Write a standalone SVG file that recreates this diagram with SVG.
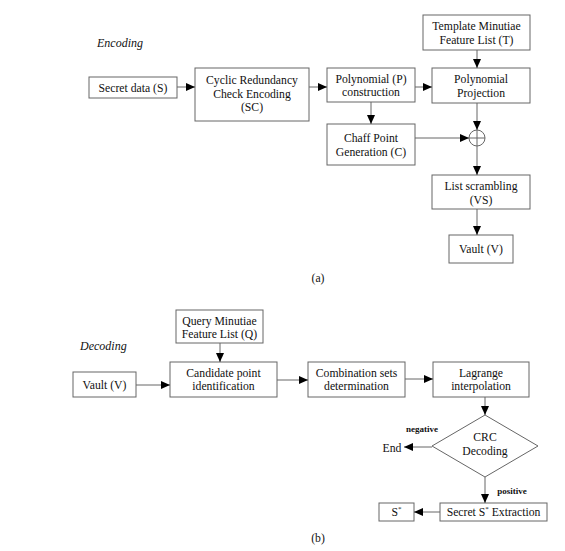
<svg xmlns="http://www.w3.org/2000/svg" width="565" height="551" viewBox="0 0 565 551">
<defs>
<marker id="ah" markerWidth="9" markerHeight="8" refX="9" refY="4" orient="auto" markerUnits="userSpaceOnUse">
<path d="M0,0 L9,4 L0,8 Z" fill="#000"/>
</marker>
<style>
.box{fill:#fff;stroke:#666;stroke-width:1}
.t{font-family:"Liberation Serif","Times New Roman",serif;font-size:11.7px;fill:#111;text-anchor:middle}
.it{font-family:"Liberation Serif","Times New Roman",serif;font-size:12px;font-style:italic;fill:#111}
.lb{font-family:"Liberation Serif","Times New Roman",serif;font-size:9px;font-weight:bold;fill:#111;text-anchor:middle}
.c{fill:none;stroke:#666;stroke-width:1}
.ca{fill:none;stroke:#666;stroke-width:1;marker-end:url(#ah)}
</style>
</defs>
<rect width="565" height="551" fill="#fff"/>
<text class="it" x="97" y="47">Encoding</text>
<text class="it" x="80" y="350">Decoding</text>

<g id="secret"><rect class="box" x="89" y="77" width="88" height="21"/><text class="t" x="133" y="91.5">Secret data (S)</text></g>
<g id="crc"><rect class="box" x="195" y="68" width="114" height="53"/><text class="t" x="252" y="84">Cyclic Redundancy</text><text class="t" x="252" y="97.5">Check Encoding</text><text class="t" x="252" y="111">(SC)</text></g>
<g id="polyP"><rect class="box" x="327" y="68" width="88" height="34"/><text class="t" x="371" y="83">Polynomial (P)</text><text class="t" x="371" y="96">construction</text></g>
<g id="proj"><rect class="box" x="432" y="68" width="98" height="35"/><text class="t" x="481" y="83">Polynomial</text><text class="t" x="481" y="96.5">Projection</text></g>
<g id="template"><rect class="box" x="423" y="15" width="107" height="35"/><text class="t" x="476.5" y="30">Template Minutiae</text><text class="t" x="476.5" y="43.5">Feature List (T)</text></g>
<g id="chaff"><rect class="box" x="327" y="124" width="88" height="41"/><text class="t" x="371" y="142">Chaff Point</text><text class="t" x="371" y="155.5">Generation (C)</text></g>
<g id="xor"><circle class="c" cx="477" cy="138" r="8"/><line class="c" x1="469" y1="138" x2="485" y2="138"/><line class="c" x1="477" y1="130" x2="477" y2="146"/></g>
<g id="scramble"><rect class="box" x="432" y="175" width="98" height="34"/><text class="t" x="481" y="190">List scrambling</text><text class="t" x="481" y="203.5">(VS)</text></g>
<g id="vaultA"><rect class="box" x="449" y="235" width="64" height="28"/><text class="t" x="481" y="253">Vault (V)</text></g>
<text class="t" x="318" y="282">(a)</text>

<g id="query"><rect class="box" x="176" y="310" width="87" height="33"/><text class="t" x="219.5" y="324.5">Query Minutiae</text><text class="t" x="219.5" y="338">Feature List (Q)</text></g>
<g id="vaultB"><rect class="box" x="73" y="372" width="63" height="25"/><text class="t" x="104.5" y="388.5">Vault (V)</text></g>
<g id="cand"><rect class="box" x="170" y="362" width="107" height="35"/><text class="t" x="223.5" y="376.5">Candidate point</text><text class="t" x="223.5" y="390">identification</text></g>
<g id="comb"><rect class="box" x="308" y="362" width="97" height="35"/><text class="t" x="356.5" y="376.5">Combination sets</text><text class="t" x="356.5" y="390">determination</text></g>
<g id="lag"><rect class="box" x="433" y="362" width="96" height="35"/><text class="t" x="481" y="376.5">Lagrange</text><text class="t" x="481" y="390">interpolation</text></g>
<g id="crcdec"><path class="box" d="M485,415 L538,446 L485,477 L432,446 Z"/><text class="t" x="485" y="441">CRC</text><text class="t" x="485" y="455">Decoding</text></g>
<g id="end"><text class="t" x="392" y="452">End</text></g>
<g id="extract"><rect class="box" x="440" y="503" width="107" height="18"/><text class="t" x="493.5" y="516">Secret S<tspan font-size="7" dy="-5">*</tspan><tspan dy="5"> Extraction</tspan></text></g>
<g id="sstar"><rect class="box" x="379" y="503" width="35" height="18"/><text class="t" x="396.5" y="516">S<tspan font-size="7" dy="-5">*</tspan></text></g>
<text class="t" x="318" y="542">(b)</text>

<g id="connectors">
<line class="ca" x1="177" y1="87" x2="195" y2="87"/>
<line class="ca" x1="309" y1="87" x2="327" y2="87"/>
<line class="ca" x1="415" y1="87" x2="432" y2="87"/>
<line class="ca" x1="477" y1="50" x2="477" y2="68"/>
<line class="ca" x1="371" y1="102" x2="371" y2="124"/>
<line class="ca" x1="477" y1="103" x2="477" y2="130"/>
<line class="ca" x1="415" y1="138" x2="469" y2="138"/>
<line class="ca" x1="477" y1="146" x2="477" y2="175"/>
<line class="ca" x1="477" y1="209" x2="477" y2="235"/>
<line class="ca" x1="220" y1="343" x2="220" y2="362"/>
<line class="ca" x1="136" y1="385" x2="170" y2="385"/>
<line class="ca" x1="277" y1="380" x2="308" y2="380"/>
<line class="ca" x1="405" y1="379" x2="433" y2="379"/>
<line class="ca" x1="485" y1="397" x2="485" y2="415"/>
<line class="ca" x1="432" y1="447" x2="404" y2="447"/>
<line class="ca" x1="485" y1="477" x2="485" y2="503"/>
<line class="ca" x1="440" y1="512" x2="414" y2="512"/>
<text class="lb" x="422" y="432">negative</text>
<text class="lb" x="512" y="494">positive</text>
</g>
</svg>
